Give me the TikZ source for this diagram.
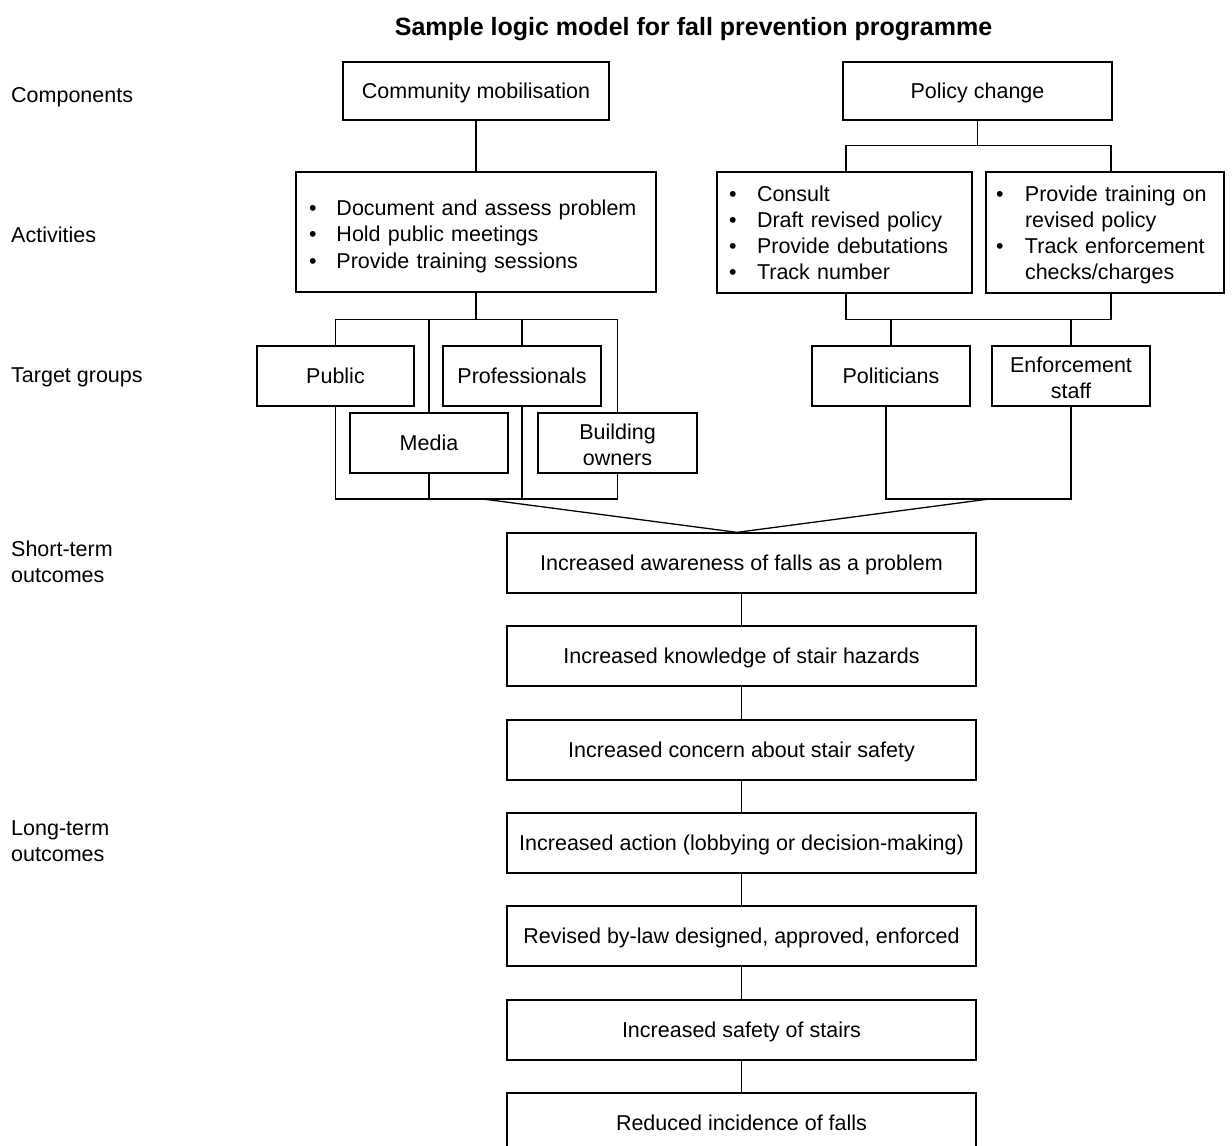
\documentclass[tikz,border=0pt]{standalone}
\usepackage{fontspec}
\setmainfont{Liberation Sans}
\newcommand{\bstrut}{\rule[-5pt]{0pt}{25.4pt}}
\begin{document}
\begin{tikzpicture}[x=1pt,y=-1pt,
  every node/.style={font=\fontsize{21.5}{26}\selectfont},
  bx/.style={draw, line width=1.3pt, inner sep=0pt, align=center, minimum height=60pt,
    execute at begin node=\bstrut, execute at end node=\bstrut},
  blist/.style={draw, line width=1.3pt, inner ysep=0pt, align=left, minimum height=121pt,
    execute at begin node=\bstrut, execute at end node=\bstrut},
  ln/.style={line width=1.3pt},
  lbl/.style={inner sep=0pt, anchor=base west, align=left}
]
\useasboundingbox (0,0) rectangle (1232,1146);

% title
\node[anchor=base, inner sep=0pt, font=\bfseries\fontsize{25}{29}\selectfont] (title) at (693.5,35) {Sample logic model for fall prevention programme};

% row labels
\node[lbl] (lcomp) at (11,102) {Components};
\node[lbl] (lact) at (11,242) {Activities};
\node[lbl] (ltg) at (11,382) {Target groups};
\node[inner sep=0pt, anchor=west, align=left] (lst) at (11,562) {Short-term\\outcomes};
\node[inner sep=0pt, anchor=west, align=left] (llt) at (11,841) {Long-term\\outcomes};

% components
\node[bx, minimum width=266pt, minimum height=58pt] (cm) at (476,91) {Community mobilisation};
\node[bx, minimum width=269pt, minimum height=58pt] (pc) at (977.5,91) {Policy change};

% activities
\node[blist, minimum height=120pt, text width=334pt, inner xsep=13pt,
  font=\fontsize{21.5}{26.5}\selectfont] (act1) at (476,232) {%
\rule{0pt}{24.4pt}\makebox[27.5pt][l]{•}Document and assess problem\\
\makebox[27.5pt][l]{•}Hold public meetings\\
\makebox[27.5pt][l]{•}Provide training sessions};
\node[blist, text width=231pt, inner xsep=12pt] (act2) at (844.5,232.5) {%
\makebox[28pt][l]{•}Consult\\
\makebox[28pt][l]{•}Draft revised policy\\
\makebox[28pt][l]{•}Provide debutations\\
\makebox[28pt][l]{•}Track number};
\node[blist, text width=218pt, inner xsep=10pt] (act3) at (1105,232.5) {%
\makebox[29pt][l]{•}Provide training on\\
\hspace*{29pt}revised policy\\
\makebox[29pt][l]{•}Track enforcement\\
\hspace*{29pt}checks/charges};

% target groups
\node[bx, minimum width=157pt] (public) at (335.5,376) {Public};
\node[bx, minimum width=158pt] (prof) at (522,376) {Professionals};
\node[bx, minimum width=158pt] (media) at (429,443) {Media};
\node[bx, minimum width=159pt] (build) at (617.5,443) {\rule{0pt}{23.6pt}Building\\owners};
\node[bx, minimum width=158pt] (pol) at (891,376) {Politicians};
\node[bx, minimum width=158pt] (enf) at (1071,376) {\rule{0pt}{24.4pt}Enforcement\\staff};

% outcomes
\node[bx, minimum width=469pt] (o1) at (741.5,563) {Increased awareness of falls as a problem};
\node[bx, minimum width=469pt] (o2) at (741.5,656) {Increased knowledge of stair hazards};
\node[bx, minimum width=469pt] (o3) at (741.5,750) {Increased concern about stair safety};
\node[bx, minimum width=469pt] (o4) at (741.5,843) {Increased action (lobbying or decision-making)};
\node[bx, minimum width=469pt] (o5) at (741.5,936) {Revised by-law designed, approved, enforced};
\node[bx, minimum width=469pt] (o6) at (741.5,1030) {Increased safety of stairs};
\node[bx, minimum width=469pt] (o7) at (741.5,1123) {Reduced incidence of falls};

% connectors: components -> activities
\draw[ln] (cm.south) -- (act1.north);
\draw[ln] (pc.south) -- ++(0,25) coordinate (pcj);
\draw[ln] ([xshift=1.5pt]act2.north) |- (pcj) -| ([xshift=6pt]act3.north);

% activities -> target groups (left)
\draw[ln] (act1.south) -- ++(0,27) coordinate (tj);
\draw[ln] (public.north) |- (tj) -| (build.north);
\draw[ln] (media.north) -- (media.north |- tj);
\draw[ln] (prof.north) -- (prof.north |- tj);

% activities -> target groups (right)
\draw[ln] ([xshift=1.5pt]act2.south) -- ++(0,26) coordinate (aj);
\draw[ln] (aj) -| ([xshift=6pt]act3.south);
\draw[ln] (pol.north) -- (pol.north |- aj);
\draw[ln] (enf.north) -- (enf.north |- aj);

% target groups -> bundle (left)
\coordinate (lb) at (477,499);
\draw[ln] (public.south) |- (lb) -| (build.south);
\draw[ln] (media.south) -- (media.south |- lb);
\draw[ln] (prof.south) -- (prof.south |- lb);

% target groups -> bundle (right)
\coordinate (rb) at (978,499);
\draw[ln] ([xshift=-5pt]pol.south) |- (rb) -| (enf.south);

% bundles -> first outcome
\coordinate (lj) at (483,499);
\coordinate (rj) at (989,499);
\coordinate (apex) at ([xshift=-4.5pt]o1.north);
\draw[ln] (lj) -- (apex) -- (rj);

% outcome chain
\foreach \a/\b in {o1/o2,o2/o3,o3/o4,o4/o5,o5/o6,o6/o7}
  \draw[ln] (\a.south) -- (\b.north);
\end{tikzpicture}
\end{document}
